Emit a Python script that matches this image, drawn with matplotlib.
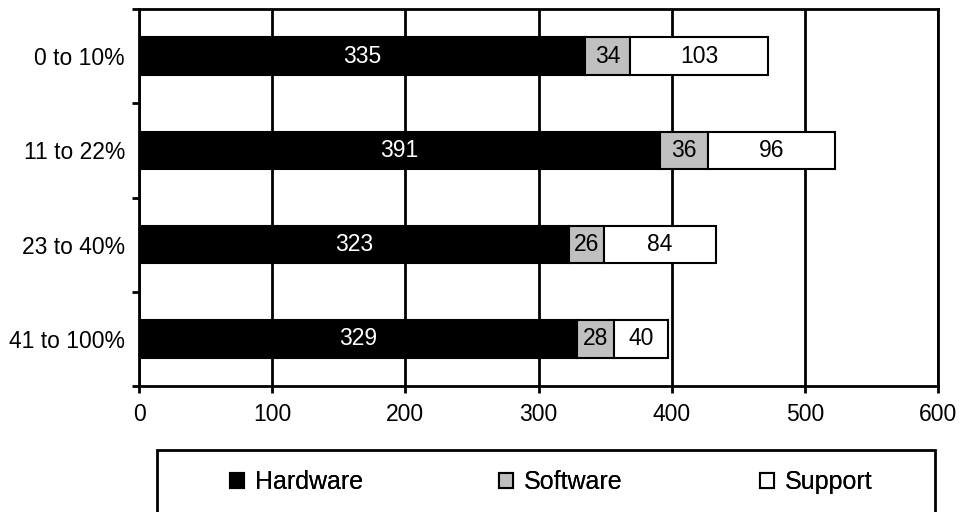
import matplotlib
matplotlib.use("Agg")
import matplotlib.pyplot as plt
from matplotlib.patches import Rectangle
import numpy as np

plt.rcParams['font.family'] = ['Liberation Sans', 'DejaVu Sans']

categories = ["0 to 10%", "11 to 22%", "23 to 40%", "41 to 100%"]
hardware = [335, 391, 323, 329]
software = [34, 36, 26, 28]
support = [103, 96, 84, 40]
series_names = ["Hardware", "Software", "Support"]
colors = ["#000000", "#c0c0c0", "#ffffff"]
text_colors = ["white", "black", "black"]
xticks = [0, 100, 200, 300, 400, 500, 600]

W, H = 963, 512
fig = plt.figure(figsize=(W/100, H/100), dpi=100)
ax = fig.add_axes([139/W, 1-386/H, (938-139)/W, (386-9)/H])

y = np.arange(len(categories))
left = np.zeros(len(categories))
handles = []
for vals, name, c, tc in zip([hardware, software, support], series_names, colors, text_colors):
    bars = ax.barh(y, vals, left=left, height=0.4, color=c, edgecolor="black",
                   linewidth=1.5, label=name, zorder=3)
    for yi, l, v in zip(y, left, vals):
        ax.text(l + v/2, yi, str(v), ha="center", va="center", color=tc,
                fontsize=16.5, zorder=4)
    left = left + np.array(vals)
    handles.append(bars)

ax.set_xlim(0, 600)
ax.set_ylim(len(categories)-0.5, -0.5)
ax.set_xticks(xticks)
ax.set_xticklabels([str(t) for t in xticks], fontsize=16.5)
ax.xaxis.grid(True, color="black", linewidth=2, zorder=1)
ax.set_yticks(np.arange(len(categories)+1) - 0.5)
ax.set_yticklabels([])
ax.set_yticks(y, minor=True)
ax.set_yticklabels(categories, minor=True, fontsize=16.5)
ax.tick_params(axis="y", which="major", length=5, width=2, direction="out")
ax.tick_params(axis="y", which="minor", length=0, pad=10)
ax.tick_params(axis="x", which="major", length=5, width=2, direction="out", pad=7)
for s in ax.spines.values():
    s.set_linewidth(2)
    s.set_color("black")

# Legend box
fig.patches.append(Rectangle((157/W, -0.01), (935-157)/W, (512-450)/H + 0.01,
                             transform=fig.transFigure, fill=False,
                             edgecolor="black", linewidth=2))
marker_x = [230, 499, 760]
for h, name, mx in zip(handles, series_names, marker_x):
    leg = fig.legend(handles=[h], labels=[name], loc="center left",
                     bbox_to_anchor=(mx/W, 1-482/H), frameon=False, fontsize=18,
                     handlelength=0.56, handleheight=0.56, handletextpad=0.44,
                     borderpad=0, borderaxespad=0)
    fig.add_artist(leg)

fig.savefig("out.png", dpi=100)
